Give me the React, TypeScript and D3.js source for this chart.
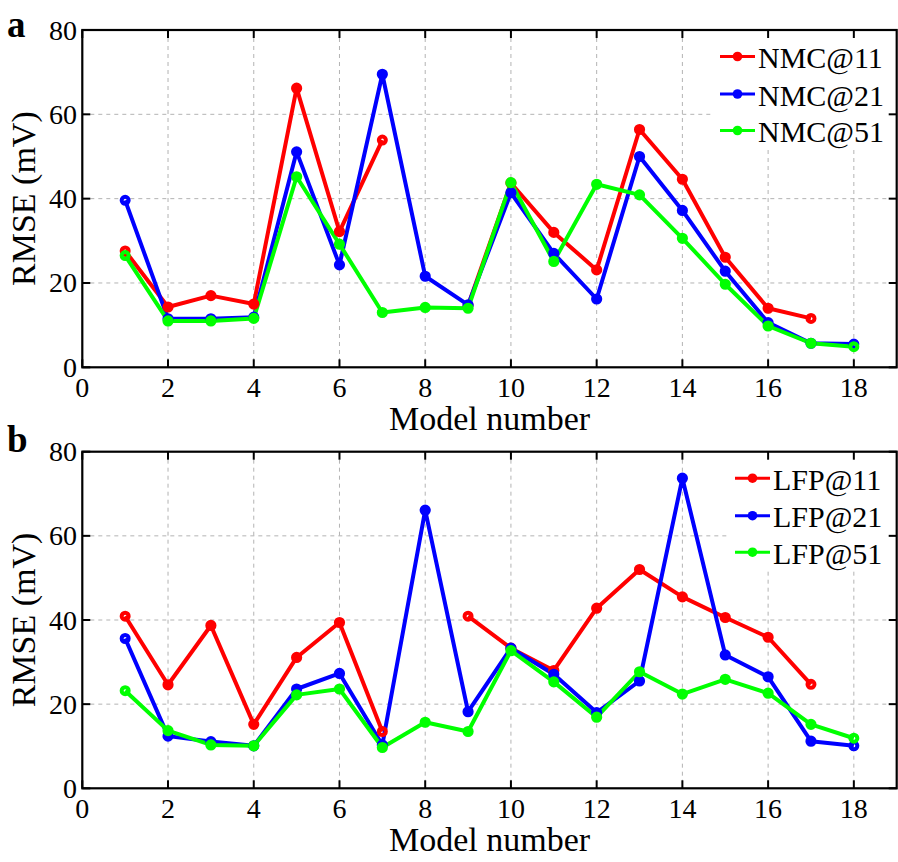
import React from "react";
import * as d3 from "d3";

const models = d3.range(1, 19);
const xTicks = [0, 2, 4, 6, 8, 10, 12, 14, 16, 18];
const yTicks = [0, 20, 40, 60, 80];

const nmc11: (number | null)[] = [27.6, 14.3, 17.0, 15.0, 66.2, 32.2, 53.9, null, 14.7, 43.7, 32.0, 23.1, 56.4, 44.6, 26.1, 14.0, 11.6, null];
const nmc21: (number | null)[] = [39.6, 11.5, 11.5, 11.9, 51.1, 24.3, 69.5, 21.6, 14.8, 41.4, 27.0, 16.2, 50.0, 37.2, 22.8, 10.6, 5.7, 5.5];
const nmc51: (number | null)[] = [26.5, 11.0, 11.0, 11.6, 45.2, 29.2, 13.0, 14.2, 14.0, 43.8, 25.1, 43.4, 40.9, 30.6, 19.7, 9.8, 5.7, 4.9];

const lfp11: (number | null)[] = [40.9, 24.6, 38.7, 15.2, 31.1, 39.4, 13.5, null, 40.9, 33.3, 28.0, 42.8, 52.0, 45.5, 40.6, 35.9, 24.7, null];
const lfp21: (number | null)[] = [35.6, 12.4, 11.1, 10.1, 23.6, 27.3, 10.3, 66.1, 18.2, 33.3, 27.1, 18.0, 25.5, 73.7, 31.7, 26.5, 11.2, 10.1];
const lfp51: (number | null)[] = [23.2, 13.7, 10.3, 10.1, 22.2, 23.6, 9.7, 15.7, 13.5, 32.7, 25.3, 16.9, 27.7, 22.4, 25.9, 22.6, 15.2, 11.9];

const colors = ["#ff0000", "#0000ff", "#00ff00"];
const nmcNames = ["NMC@11", "NMC@21", "NMC@51"];
const lfpNames = ["LFP@11", "LFP@21", "LFP@51"];

const FONT = "'Liberation Serif', 'Times New Roman', serif";

type PanelProps = {
  top: number;
  bottom: number;
  series: (number | null)[][];
  names: string[];
  label: string;
  labelY: number;
  legendX: number;
};

function Panel({ top, bottom, series, names, label, labelY, legendX }: PanelProps) {
  const left = 82.3;
  const right = 896.7;
  const x = d3.scaleLinear().domain([0, 19]).range([left, right]);
  const y = d3.scaleLinear().domain([0, 80]).range([bottom, top]);
  const line = d3
    .line<number | null>()
    .defined((d) => d !== null)
    .x((_, i) => x(models[i]))
    .y((d) => y(d as number));

  const isEnd = (arr: (number | null)[], i: number) =>
    arr[i] !== null && (i === 0 || arr[i - 1] === null || i === arr.length - 1 || arr[i + 1] === null);

  const tickLen = 8;
  const legendRows = [26.5, 64, 100.5];

  return (
    <g>
      {xTicks
        .filter((t) => t !== 0)
        .map((t) => (
          <line key={"gx" + t} x1={x(t)} x2={x(t)} y1={top} y2={bottom} stroke="#b3b3b3" strokeWidth={1} strokeDasharray="4,4" />
        ))}
      {yTicks
        .filter((t) => t !== 0 && t !== 80)
        .map((t) => (
          <line key={"gy" + t} x1={left} x2={right} y1={y(t)} y2={y(t)} stroke="#b3b3b3" strokeWidth={1} strokeDasharray="4,4" />
        ))}
      <rect x={legendX - 8} y={top + 1} width={right - legendX + 7} height={legendRows[2] + 17} fill="#ffffff" />
      {xTicks.map((t) => (
        <g key={"tx" + t}>
          <line x1={x(t)} x2={x(t)} y1={bottom} y2={bottom - tickLen} stroke="#000" strokeWidth={2} />
          <line x1={x(t)} x2={x(t)} y1={top} y2={top + tickLen} stroke="#000" strokeWidth={2} />
          <text x={x(t)} y={bottom + 29.5} textAnchor="middle" fontFamily={FONT} fontSize={28} fill="#000">
            {t}
          </text>
        </g>
      ))}
      {yTicks.map((t) => (
        <g key={"ty" + t}>
          <line x1={left} x2={left + tickLen} y1={y(t)} y2={y(t)} stroke="#000" strokeWidth={2} />
          <line x1={right} x2={right - tickLen} y1={y(t)} y2={y(t)} stroke="#000" strokeWidth={2} />
          <text x={77} y={y(t) + 9.5} textAnchor="end" fontFamily={FONT} fontSize={28} fill="#000">
            {t}
          </text>
        </g>
      ))}
      {series.map((s, si) => (
        <path key={"l" + si} d={line(s) || ""} fill="none" stroke={colors[si]} strokeWidth={4} strokeLinejoin="round" />
      ))}
      {series.map((s, si) =>
        s.map((v, i) =>
          v === null ? null : (
            <circle
              key={"m" + si + "-" + i}
              cx={x(models[i])}
              cy={y(v)}
              r={isEnd(s, i) ? 3.5 : 3.8}
              fill={isEnd(s, i) ? "none" : colors[si]}
              stroke={colors[si]}
              strokeWidth={isEnd(s, i) ? 4 : 3.6}
            />
          )
        )
      )}
      <rect x={left} y={top} width={right - left} height={bottom - top} fill="none" stroke="#000" strokeWidth={2.2} />
      {names.map((n, i) => (
        <g key={"lg" + n}>
          <line x1={legendX} x2={legendX + 35} y1={top + legendRows[i]} y2={top + legendRows[i]} stroke={colors[i]} strokeWidth={3} />
          <circle cx={legendX + 17.5} cy={top + legendRows[i]} r={4.8} fill={colors[i]} />
          <text x={legendX + 38} y={top + legendRows[i] + 11.5} fontFamily={FONT} fontSize={30} fill="#000">
            {n}
          </text>
        </g>
      ))}
      <text x={(left + right) / 2} y={bottom + 63} textAnchor="middle" fontFamily={FONT} fontSize={34} fill="#000">
        Model number
      </text>
      <text
        transform={`translate(35,${(top + bottom) / 2}) rotate(-90)`}
        textAnchor="middle"
        fontFamily={FONT}
        fontSize={34}
        fill="#000"
      >
        RMSE (mV)
      </text>
      <text x={7} y={labelY} fontFamily={FONT} fontSize={37} fontWeight="bold" fill="#000">
        {label}
      </text>
    </g>
  );
}

export default function App() {
  return (
    <svg
      width={898}
      height={862}
      viewBox="0 0 898 862"
      style={{ position: "absolute", left: 0, top: 0, background: "#fff" }}
    >
      <rect x={0} y={0} width={898} height={862} fill="#fff" />
      <Panel top={30} bottom={367.3} series={[nmc11, nmc21, nmc51]} names={nmcNames} label="a" labelY={37} legendX={720} />
      <Panel top={451.7} bottom={788.3} series={[lfp11, lfp21, lfp51]} names={lfpNames} label="b" labelY={452} legendX={735} />
    </svg>
  );
}
